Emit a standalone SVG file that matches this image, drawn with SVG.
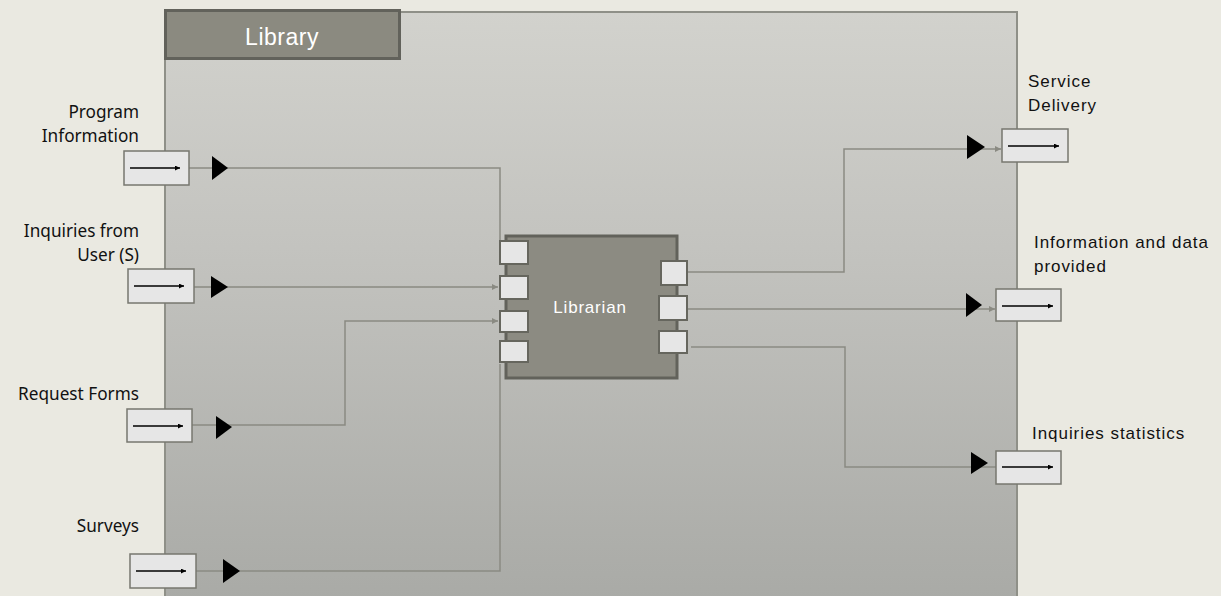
<svg xmlns="http://www.w3.org/2000/svg" width="1221" height="596" viewBox="0 0 1221 596">
<defs>
<linearGradient id="bg" x1="0" y1="0" x2="0" y2="1">
<stop offset="0" stop-color="#d2d2cd"/>
<stop offset="0.4" stop-color="#c3c3bf"/>
<stop offset="1" stop-color="#a9aaa6"/>
</linearGradient>
<marker id="ga" viewBox="0 0 8 8" refX="8" refY="4" markerWidth="6" markerHeight="6" markerUnits="userSpaceOnUse" orient="auto">
<path d="M0,0 L8,4 L0,8 z" fill="#8a8a82"/>
</marker>
<marker id="ba" viewBox="0 0 8 8" refX="8" refY="4" markerWidth="6" markerHeight="5" markerUnits="userSpaceOnUse" orient="auto">
<path d="M0,0 L8,4 L0,8 z" fill="#000"/>
</marker>
</defs>
<style>
.lbl{font-family:"Noto Sans","Open Sans",sans-serif;font-size:17.2px;fill:#111}
.rlbl{font-family:"Liberation Sans",Arial,sans-serif;font-size:17px;fill:#111;letter-spacing:0.95px}
.io{fill:#e6e6e6;stroke:#77776f;stroke-width:1.5}
.port{fill:#e6e6e6;stroke:#66665e;stroke-width:2}
.inner{stroke:#000;stroke-width:1.3;fill:none;marker-end:url(#ba)}
.tri{fill:#000}
.conn{fill:none;stroke:#8a8a82;stroke-width:1.5}
</style>
<rect width="1221" height="596" fill="#eae9e1"/>

<g id="library">
<rect x="165" y="12" width="852" height="590" fill="url(#bg)" stroke="#8f9088" stroke-width="2"/>
<rect x="165.5" y="10.5" width="234" height="48" fill="#8b8a80" stroke="#62625b" stroke-width="3"/>
<text x="282" y="45" text-anchor="middle" font-family="Liberation Sans,Arial,sans-serif" font-size="23" fill="#fff" letter-spacing="0.5">Library</text>
</g>

<g id="connectors">
<path class="conn" d="M189,168 H500 V241"/>
<path class="conn" d="M194,287 H498" marker-end="url(#ga)"/>
<path class="conn" d="M192,425 H345 V321 H498" marker-end="url(#ga)"/>
<path class="conn" d="M196,571 H500 V364"/>
<path class="conn" d="M687,272 H844 V149 H1001" marker-end="url(#ga)"/>
<path class="conn" d="M687,309 H995" marker-end="url(#ga)"/>
<path class="conn" d="M691,347 H845 V467 H996"/>
</g>

<g id="librarian">
<rect x="506" y="236" width="171" height="142" fill="#8c8b82" stroke="#62625b" stroke-width="3"/>
<rect class="port" x="500" y="241" width="28" height="23"/>
<rect class="port" x="500" y="276" width="28" height="23"/>
<rect class="port" x="500" y="311" width="28" height="21"/>
<rect class="port" x="500" y="341" width="28" height="21"/>
<rect class="port" x="661" y="261" width="26" height="24"/>
<rect class="port" x="659" y="296" width="28" height="24"/>
<rect class="port" x="659" y="331" width="28" height="22"/>
<text x="590" y="313" text-anchor="middle" font-family="Liberation Sans,Arial,sans-serif" font-size="17" fill="#fff" letter-spacing="0.8">Librarian</text>
</g>

<g id="in-program">
<text class="lbl" x="139" y="118" text-anchor="end">Program</text>
<text class="lbl" x="139" y="142" text-anchor="end">Information</text>
<rect class="io" x="124" y="151" width="65" height="34"/>
<line class="inner" x1="130" y1="168" x2="180" y2="168"/>
<path class="tri" d="M212,156 L228,168 L212,180 z"/>
</g>

<g id="in-inquiries">
<text class="lbl" x="139" y="237" text-anchor="end">Inquiries from</text>
<text class="lbl" x="139" y="261" text-anchor="end">User (S)</text>
<rect class="io" x="128" y="269" width="66" height="34"/>
<line class="inner" x1="134" y1="286" x2="184" y2="286"/>
<path class="tri" d="M211,276 L228,287 L211,298 z"/>
</g>

<g id="in-request">
<text class="lbl" x="139" y="400" text-anchor="end">Request Forms</text>
<rect class="io" x="127" y="409" width="65" height="33"/>
<line class="inner" x1="133" y1="426" x2="183" y2="426"/>
<path class="tri" d="M216,416 L232,427 L216,439 z"/>
</g>

<g id="in-surveys">
<text class="lbl" x="139" y="532" text-anchor="end">Surveys</text>
<rect class="io" x="130" y="554" width="66" height="34"/>
<line class="inner" x1="136" y1="571" x2="186" y2="571"/>
<path class="tri" d="M223,559 L240,571 L223,583 z"/>
</g>

<g id="out-service">
<text class="rlbl" x="1028" y="87">Service</text>
<text class="rlbl" x="1028" y="111">Delivery</text>
<rect class="io" x="1002" y="129" width="66" height="33"/>
<line class="inner" x1="1008" y1="146" x2="1059" y2="146"/>
<path class="tri" d="M967,135 L985,147 L967,159 z"/>
</g>

<g id="out-info">
<text class="rlbl" x="1034" y="248">Information and data</text>
<text class="rlbl" x="1034" y="272">provided</text>
<rect class="io" x="996" y="289" width="65" height="32"/>
<line class="inner" x1="1002" y1="306" x2="1053" y2="306"/>
<path class="tri" d="M966,293 L982,305 L966,317 z"/>
</g>

<g id="out-stats">
<text class="rlbl" x="1032" y="439">Inquiries statistics</text>
<rect class="io" x="996" y="451" width="65" height="33"/>
<line class="inner" x1="1002" y1="467" x2="1053" y2="467"/>
<path class="tri" d="M971,452 L988,463 L971,474 z"/>
</g>
</svg>
